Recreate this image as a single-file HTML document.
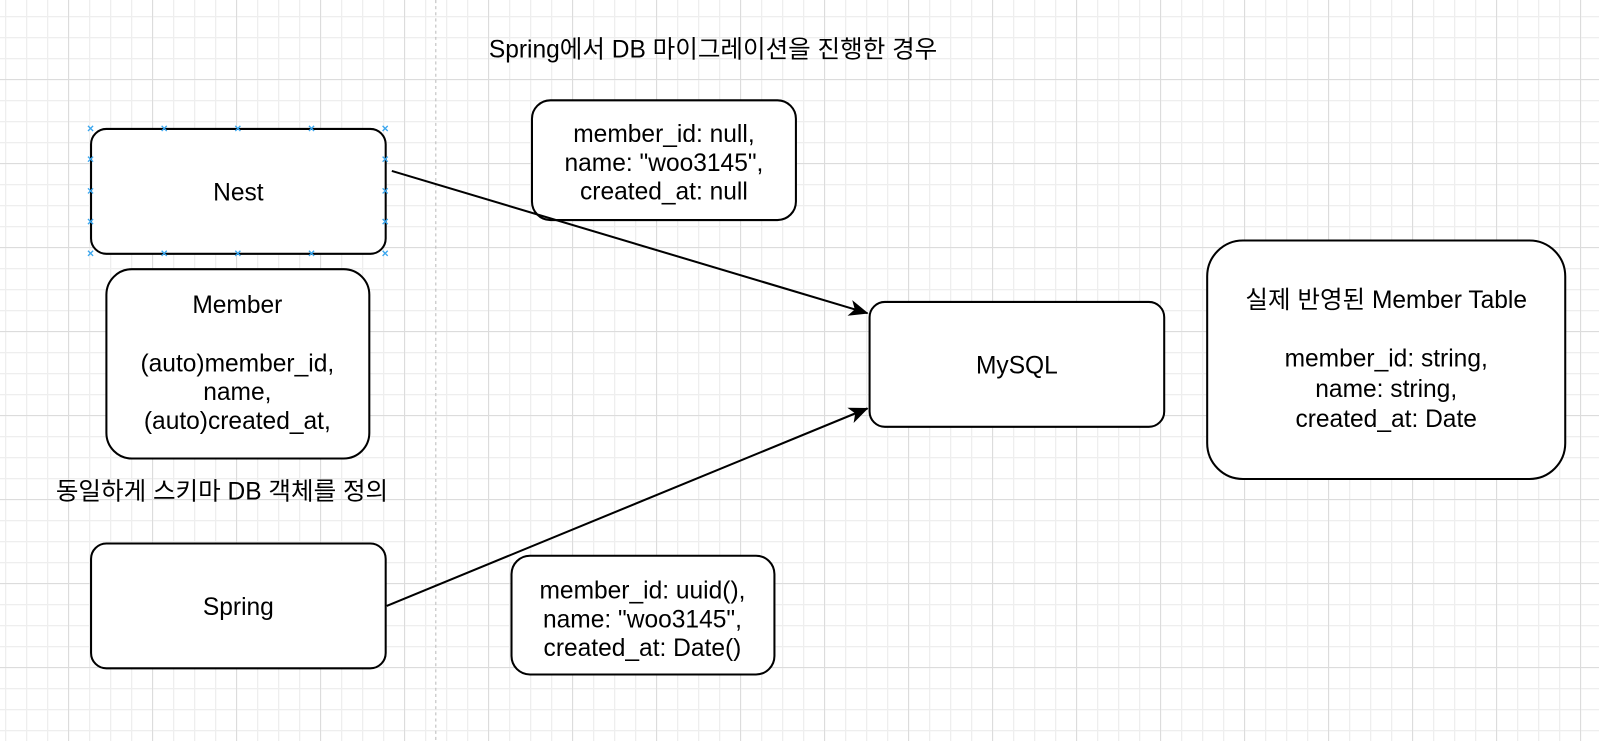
<!DOCTYPE html>
<html><head><meta charset="utf-8"><style>
html,body{margin:0;padding:0;width:1599px;height:741px;overflow:hidden;background:#fff;}
svg{position:absolute;left:0;top:0;}
text{font-family:"Liberation Sans","Noto Sans CJK KR",sans-serif;font-size:24px;fill:#000;text-anchor:middle;}
</style></head><body>
<svg width="1599" height="741">
<defs>
<pattern id="mi" width="21" height="21" patternUnits="userSpaceOnUse" x="5" y="16">
<path d="M0.5,0V21M0,0.5H21" stroke="#eeeeee" stroke-width="1.5" fill="none"/></pattern>
<pattern id="ma" width="84" height="84" patternUnits="userSpaceOnUse" x="68" y="79">
<path d="M0.5,0V84M0,0.5H84" stroke="#dcdcdc" stroke-width="1" fill="none"/></pattern>
</defs>
<rect width="1599" height="741" fill="url(#mi)"/>
<rect width="1599" height="741" fill="url(#ma)"/>
</svg>
<svg width="1599" height="741" viewBox="0 0 1563 724" preserveAspectRatio="none">
<defs>
<marker id="b" markerWidth="20" markerHeight="18" refX="18" refY="9" orient="auto" markerUnits="userSpaceOnUse" viewBox="0 0 20 18"><path d="M0,1 L19,9 L0,17 L5,9z" fill="#000"/></marker></defs>
<line x1="426" y1="0" x2="426" y2="724" stroke="#bbb" stroke-dasharray="3,3"/>
<g fill="#fff" stroke="#000" stroke-width="2">
<rect x="89" y="126" width="288" height="122" rx="15"/>
<rect x="104" y="263" width="257" height="185" rx="25"/>
<rect x="89" y="531" width="288" height="122" rx="15"/>
<rect x="850" y="295" width="288" height="122" rx="15"/>
<rect x="520" y="98" width="258" height="117" rx="18"/>
<rect x="500" y="543" width="257" height="116" rx="18"/>
<rect x="1180" y="235" width="350" height="233" rx="35"/>
</g>
<line x1="383" y1="167" x2="848" y2="306" stroke="#000" stroke-width="2" marker-end="url(#b)"/>
<line x1="378" y1="592" x2="848" y2="399" stroke="#000" stroke-width="2" marker-end="url(#b)"/>
<g stroke="#3aa6ee" stroke-width="1.3">
<path d="M86,123l5,5m0,-5l-5,5 M158,123l5,5m0,-5l-5,5 M230,123l5,5m0,-5l-5,5 M302,123l5,5m0,-5l-5,5 M374,123l5,5m0,-5l-5,5
M86,245l5,5m0,-5l-5,5 M158,245l5,5m0,-5l-5,5 M230,245l5,5m0,-5l-5,5 M302,245l5,5m0,-5l-5,5 M374,245l5,5m0,-5l-5,5
M86,153l5,5m0,-5l-5,5 M86,184l5,5m0,-5l-5,5 M86,214l5,5m0,-5l-5,5
M374,153l5,5m0,-5l-5,5 M374,184l5,5m0,-5l-5,5 M374,214l5,5m0,-5l-5,5"/>
</g>
<text x="697" y="56">Spring에서 DB 마이그레이션을 진행한 경우</text>
<text x="233" y="196">Nest</text>
<text x="233" y="601">Spring</text>
<text x="994" y="365">MySQL</text>
<text x="232" y="306">Member</text>
<text x="232" y="363">(auto)member_id,</text>
<text x="232" y="391">name,</text>
<text x="232" y="419">(auto)created_at,</text>
<text x="217" y="488">동일하게 스키마 DB 객체를 정의</text>
<text x="649" y="139">member_id: null,</text>
<text x="649" y="167">name: "woo3145",</text>
<text x="649" y="195">created_at: null</text>
<text x="628" y="585">member_id: uuid(),</text>
<text x="628" y="613">name: "woo3145",</text>
<text x="628" y="641">created_at: Date()</text>
<text x="1355" y="301">실제 반영된 Member Table</text>
<text x="1355" y="358">member_id: string,</text>
<text x="1355" y="388">name: string,</text>
<text x="1355" y="417">created_at: Date</text>
</svg></body></html>
